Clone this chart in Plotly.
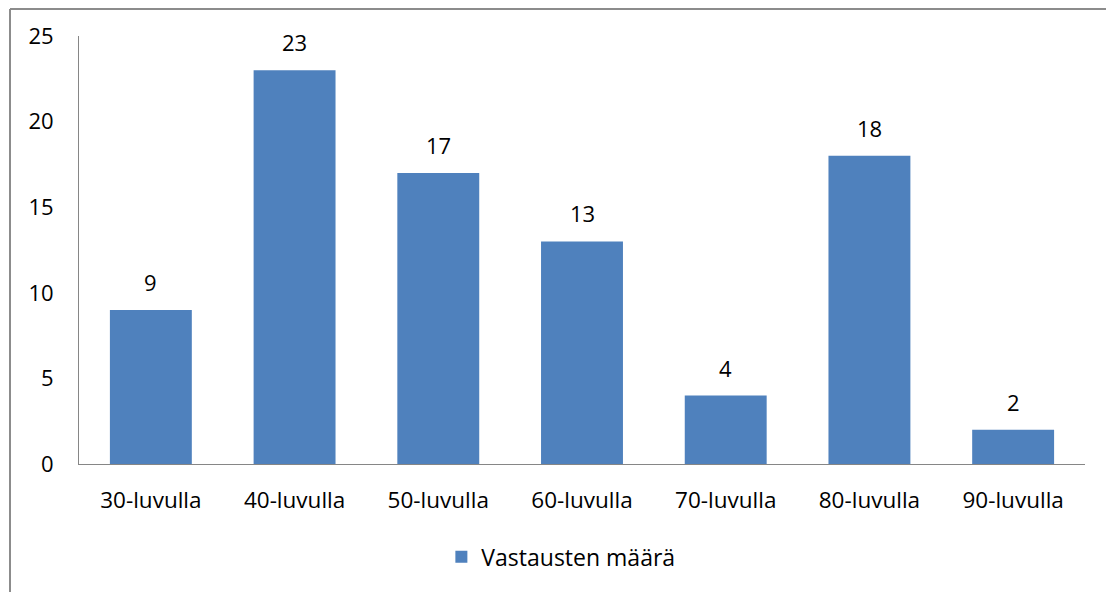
import plotly.graph_objects as go

categories = ["30-luvulla", "40-luvulla", "50-luvulla", "60-luvulla", "70-luvulla", "80-luvulla", "90-luvulla"]
values = [9, 23, 17, 13, 4, 18, 2]
series_name = "Vastausten määrä"
y_ticks = [0, 5, 10, 15, 20, 25]

FONT = "Open Sans"
FS = 22
W, H = 1106, 584  # page has 8px body margin
L, T = 71, 28
PW, PH = 1006, 428

fig = go.Figure()
fig.add_trace(go.Bar(
    x=categories, y=values, name=series_name,
    marker=dict(color="#4F81BD", line=dict(width=0)),
    showlegend=True,
))
for c, v in zip(categories, values):
    fig.add_annotation(x=c, y=v, text=str(v), showarrow=False,
                       yanchor="bottom", yshift=11,
                       font=dict(family=FONT, size=FS, color="#000"))

fig.update_layout(
    width=W, height=H,
    margin=dict(l=L, r=W - L - PW, t=T, b=H - T - PH, pad=0),
    paper_bgcolor="white", plot_bgcolor="white",
    bargap=0.43,
    font=dict(family=FONT, size=FS, color="#000"),
    legend=dict(orientation="h", x=0.479, xanchor="center", y=-0.217, yanchor="middle",
                font=dict(family=FONT, size=FS + 1), itemwidth=30),
    xaxis=dict(showline=True, linecolor="#868686", linewidth=1, ticks="",
               showgrid=False, ticklabelstandoff=16, tickfont=dict(size=FS + 0.5)),
    yaxis=dict(range=[0, 25], tickvals=y_ticks, showline=True, linecolor="#868686",
               linewidth=1, ticks="", showgrid=False, zeroline=False,
               ticklabelstandoff=20, tickfont=dict(size=FS)),
)

def px(x):
    return (x - L) / PW

def py(y):
    return (T + PH - y) / PH

# chart outer border
fig.add_shape(type="line", xref="paper", yref="paper",
              x0=px(2), x1=px(2), y0=py(1), y1=py(H + 10),
              line=dict(color="#8c8c8c", width=2))
fig.add_shape(type="line", xref="paper", yref="paper",
              x0=px(2), x1=px(1105), y0=py(1), y1=py(1),
              line=dict(color="#8c8c8c", width=2))
fig.add_shape(type="line", xref="paper", yref="paper",
              x0=px(1105), x1=px(1105), y0=py(1), y1=py(H + 10),
              line=dict(color="#d9d9d9", width=1))

fig.write_html("out.html")
